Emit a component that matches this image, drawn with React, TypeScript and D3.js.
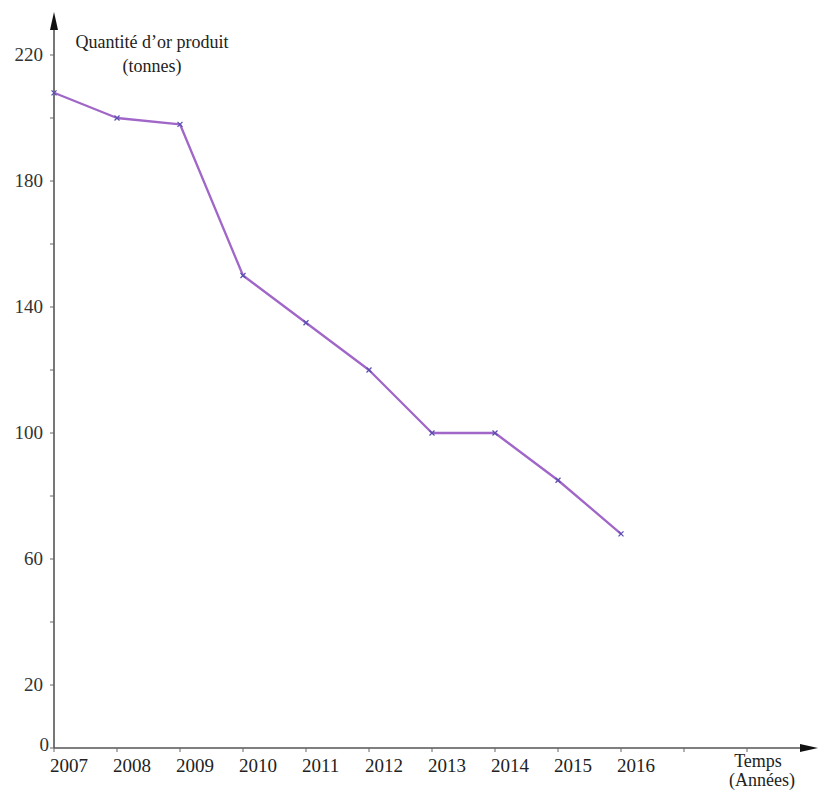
import React from "react";
import * as d3 from "d3";

const years = [2007, 2008, 2009, 2010, 2011, 2012, 2013, 2014, 2015, 2016];
const gold = [208, 200, 198, 150, 135, 120, 100, 100, 85, 68];
const xTickYears = [2007, 2008, 2009, 2010, 2011, 2012, 2013, 2014, 2015, 2016, 2017, 2018];
const yTicks = [0, 20, 40, 60, 80, 100, 120, 140, 160, 180, 200, 220];
const yLabels = [0, 20, 60, 100, 140, 180, 220];

export default function App() {
  const W = 818, H = 792;
  const x = d3.scaleLinear().domain([2007, 2018]).range([54, 747]);
  const y = d3.scaleLinear().domain([0, 220]).range([748, 55]);
  const line = d3.line<number>().x((_, i) => x(years[i])).y((d) => y(d));
  const font = "'Liberation Serif', 'Times New Roman', serif";
  const lineColor = "#a066c8";
  return (
    <svg width={W} height={H} style={{ position: "absolute", left: 0, top: 0, background: "#fff" }} fontFamily={font}>
      {/* axes */}
      <line x1={54} y1={748} x2={54} y2={22} stroke="#555" strokeWidth={1.6} />
      <polygon points="54,12 50,30 58,30" fill="#111" />
      <line x1={54} y1={748} x2={806} y2={748} stroke="#555" strokeWidth={1.6} />
      <polygon points="818,748 800,744 800,752" fill="#111" />
      {yTicks.map((t) => (
        <line key={"yt" + t} x1={50} x2={54} y1={y(t)} y2={y(t)} stroke="#666" strokeWidth={1} />
      ))}
      {yLabels.map((t) => (
        <text key={"yl" + t} x={t === 0 ? 49 : 43} y={y(t) + (t === 0 ? 3 : 6)} textAnchor="end" fontSize={19} fill="#333">
          {t}
        </text>
      ))}
      {xTickYears.map((t) => (
        <line key={"xt" + t} x1={x(t)} x2={x(t)} y1={748} y2={752} stroke="#666" strokeWidth={1} />
      ))}
      {years.map((t) => (
        <text key={"xl" + t} x={x(t) - 4} y={772} textAnchor="start" fontSize={19} fill="#222">
          {t}
        </text>
      ))}
      {/* titles */}
      <text x={152} y={48} textAnchor="middle" fontSize={18} fill="#222">Quantité d’or produit</text>
      <text x={152} y={72} textAnchor="middle" fontSize={18} fill="#222">(tonnes)</text>
      <text x={758} y={767} textAnchor="middle" fontSize={18} fill="#222">Temps</text>
      <text x={762} y={786} textAnchor="middle" fontSize={18} fill="#222">(Années)</text>
      {/* data line */}
      <path d={line(gold) || ""} fill="none" stroke={lineColor} strokeWidth={2.3} strokeLinejoin="round" />
      {gold.map((v, i) => {
        const cx = x(years[i]), cy = y(v), s = 2.5;
        return (
          <g key={"m" + i} stroke="#5a4fb0" strokeWidth={1.2}>
            <line x1={cx - s} y1={cy - s} x2={cx + s} y2={cy + s} />
            <line x1={cx - s} y1={cy + s} x2={cx + s} y2={cy - s} />
          </g>
        );
      })}
    </svg>
  );
}
